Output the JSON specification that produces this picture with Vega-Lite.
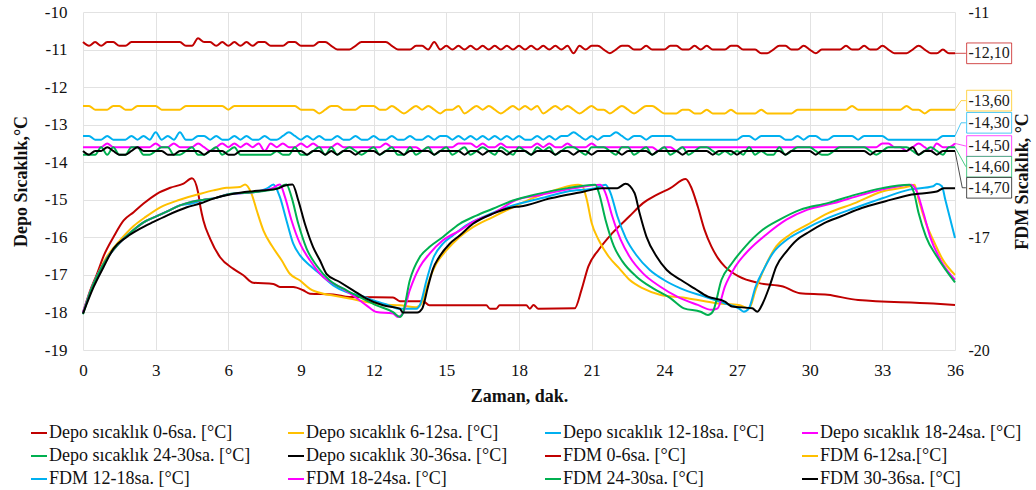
{
  "$schema": "https://vega.github.io/schema/vega-lite/v6.json",
  "width": 872,
  "height": 338,
  "autosize": {"type": "none"},
  "padding": {"left": 83, "top": 12, "right": 81, "bottom": 140},
  "background": "white",
  "config": {
    "font": "Liberation Serif",
    "locale": {"number": {"decimal": ",", "thousands": ".", "grouping": [3], "currency": ["", ""], "minus": "-"}},
    "view": {"stroke": null},
    "axis": {
      "labelFont": "Liberation Serif",
      "titleFont": "Liberation Serif",
      "labelColor": "#111111",
      "titleColor": "#111111",
      "gridColor": "#E2E2E2",
      "gridWidth": 1,
      "domain": false,
      "ticks": false,
      "labelFontSize": 17,
      "titleFontSize": 18,
      "titleFontWeight": "bold",
      "labelFlush": false,
      "labelOverlap": false
    }
  },
  "layer": [
    {
      "data": {
        "values": [
          {"s": "Depo sıcaklık 0-6sa. [°C]",
           "t": [0,0.3,0.58,0.85,1.26,1.68,2.09,2.5,3.05,3.6,4.15,4.5,4.75,4.85,4.97,5.25,5.66,6.21,6.62,7.03,7.86,8.13,8.68,9.09,9.37,10.33,11,12.8,13.08,14.04,14.3,16.65,16.8,17.06,17.2,18.3,18.45,18.6,18.8,20.3,20.58,20.86,21.29,21.85,22.56,23.12,23.68,24.25,24.88,25.09,25.38,25.66,25.94,26.22,26.5,27.07,27.92,28.9,29.6,30.74,32,35.1,36],
           "v": [-18,-17.41,-16.97,-16.5,-15.99,-15.55,-15.33,-15.1,-14.84,-14.68,-14.57,-14.43,-14.8,-15.2,-15.55,-16.04,-16.53,-16.84,-17.01,-17.21,-17.24,-17.32,-17.32,-17.41,-17.5,-17.52,-17.59,-17.6,-17.7,-17.7,-17.81,-17.81,-17.9,-17.9,-17.81,-17.81,-17.9,-17.8,-17.9,-17.89,-17.4,-16.78,-16.33,-15.89,-15.44,-15.09,-14.87,-14.69,-14.45,-14.64,-15.18,-15.8,-16.24,-16.56,-16.78,-17.04,-17.22,-17.31,-17.49,-17.53,-17.67,-17.76,-17.8]},
          {"s": "Depo sıcaklık 6-12sa. [°C]",
           "t": [0,0.3,0.6,1,1.5,2.09,2.6,3.19,4,4.84,5.38,5.93,6.48,6.69,6.96,7.17,7.45,7.79,8.2,8.54,8.96,9.37,9.92,10.33,11,11.7,12.39,13.08,13.76,13.97,14.24,14.59,15,15.55,16.1,16.92,17.75,18.6,19.6,20.44,20.6,20.8,21,21.29,21.7,22.13,22.56,23.12,23.82,24.95,26.22,27.07,27.5,27.77,28.13,28.62,29.18,29.89,30.74,31.86,33,34.12,34.33,34.5,34.8,35.1,35.5,36],
           "v": [-18,-17.45,-17,-16.5,-16.1,-15.7,-15.45,-15.2,-15,-14.84,-14.75,-14.68,-14.66,-14.59,-14.84,-15.28,-15.82,-16.22,-16.61,-16.97,-17.15,-17.37,-17.5,-17.55,-17.63,-17.72,-17.79,-17.81,-17.86,-17.77,-17.23,-16.7,-16.35,-15.99,-15.73,-15.46,-15.2,-14.95,-14.72,-14.6,-14.62,-15,-15.62,-16.07,-16.51,-16.82,-17.13,-17.36,-17.53,-17.62,-17.76,-17.8,-17.89,-17.4,-16.82,-16.24,-15.93,-15.67,-15.36,-15.09,-14.78,-14.64,-14.6,-15,-15.62,-16.07,-16.6,-17]},
          {"s": "Depo sıcaklık 12-18sa. [°C]",
           "t": [0,0.3,0.6,1,1.5,2,2.5,3,3.5,4,4.5,5,5.5,6,7,7.6,7.86,8.13,8.4,8.68,8.96,9.37,9.78,10.33,10.88,11.43,12,12.53,13.08,13.76,13.93,14.18,14.45,14.86,15.27,15.82,16.65,17.75,18.9,20,21.15,21.57,21.78,22.06,22.41,22.84,23.4,23.97,24.67,25.66,26.5,27.07,27.28,27.49,27.77,28.13,28.48,29.04,29.75,30.74,31.86,33,34.12,35.1,35.25,35.46,35.6,35.81,36],
           "v": [-18,-17.45,-17,-16.55,-16.15,-15.85,-15.6,-15.45,-15.3,-15.15,-15.1,-15,-14.95,-14.85,-14.8,-14.7,-14.59,-14.93,-15.55,-16.17,-16.48,-16.75,-16.97,-17.28,-17.46,-17.55,-17.68,-17.79,-17.9,-17.9,-17.77,-17.15,-16.57,-16.17,-15.95,-15.68,-15.42,-15.15,-14.96,-14.78,-14.69,-14.6,-14.82,-15.44,-16.02,-16.47,-16.87,-17.13,-17.36,-17.58,-17.76,-17.89,-17.98,-17.89,-17.31,-16.82,-16.42,-16.07,-15.8,-15.49,-15.22,-14.96,-14.73,-14.64,-14.57,-14.64,-15,-15.53,-16.02]},
          {"s": "Depo sıcaklık 18-24sa. [°C]",
           "t": [0,0.3,0.6,1,1.5,2,2.5,3,3.5,4,4.5,5,5.5,6,7,7.8,8.13,8.34,8.61,8.96,9.37,9.92,10.6,11.15,11.7,12.12,12.8,13,13.2,13.49,13.9,14.3,14.86,15.55,16.1,16.92,17.9,18.9,20.3,21.36,21.57,21.85,22.2,22.56,23.12,23.82,24.53,25.38,25.94,26.2,26.5,26.93,27.5,28.2,29.04,29.89,31,32.15,33.27,34.2,34.4,34.7,34.97,35.4,36],
           "v": [-18,-17.45,-17,-16.55,-16.15,-15.85,-15.6,-15.45,-15.3,-15.15,-15.05,-15,-14.95,-14.85,-14.8,-14.7,-14.59,-14.93,-15.55,-16.17,-16.61,-17.06,-17.32,-17.55,-17.81,-17.99,-18.03,-18.12,-18.03,-17.41,-16.79,-16.44,-16.08,-15.82,-15.59,-15.37,-15,-14.87,-14.69,-14.6,-14.82,-15.44,-16.07,-16.51,-16.96,-17.31,-17.58,-17.8,-17.93,-17.89,-17.31,-16.78,-16.33,-15.93,-15.53,-15.27,-15.09,-14.87,-14.69,-14.6,-14.75,-15.36,-15.98,-16.6,-17.13]},
          {"s": "Depo sıcaklık 24-30sa. [°C]",
           "t": [0,0.3,0.6,1,1.5,2,2.5,3,3.5,4,4.5,5,5.5,6,7,8,8.4,8.61,8.89,9.23,9.64,10.19,10.88,11.43,12.12,12.8,13.08,13.2,13.49,13.9,14.3,14.86,15.55,16.24,16.92,17.75,18.6,20,21.15,21.3,21.57,21.92,22.27,22.84,23.54,24.25,24.81,25.5,25.8,26,26.36,26.79,27.35,28.06,28.76,29.6,30.74,31.86,33,34.12,34.3,34.5,34.8,35.25,36],
           "v": [-18.05,-17.45,-17,-16.55,-16.15,-15.85,-15.6,-15.45,-15.3,-15.15,-15.05,-15,-14.95,-14.85,-14.8,-14.7,-14.59,-14.93,-15.64,-16.3,-16.75,-17.15,-17.41,-17.59,-17.81,-17.99,-18.12,-18.03,-17.15,-16.53,-16.26,-15.99,-15.64,-15.42,-15.24,-15.02,-14.87,-14.69,-14.6,-14.82,-15.53,-16.24,-16.64,-17.04,-17.36,-17.62,-17.89,-17.98,-18.07,-17.98,-17.13,-16.69,-16.24,-15.8,-15.53,-15.27,-15.09,-14.87,-14.69,-14.6,-14.8,-15.36,-15.98,-16.51,-17.2]},
          {"s": "Depo sıcaklık 30-36sa. [°C]",
           "t": [0,0.44,0.85,1.26,1.81,2.36,2.91,3.46,4.29,4.84,5.38,6.21,7.03,8,8.34,8.65,8.89,9.16,9.5,9.78,10.05,10.6,11.15,11.7,12.39,13.08,13.2,13.8,14,14.24,14.45,14.7,15.14,15.55,16.1,16.92,17.75,18.04,19.3,20.7,21.4,22.06,22.4,22.77,22.98,23.26,23.68,24.1,24.67,25.24,25.8,26.5,26.79,27.63,27.84,28.06,28.34,28.62,29.04,29.47,29.89,30.6,31.3,32.15,33.13,34.12,35.25,35.53,36],
           "v": [-18.03,-17.32,-16.79,-16.3,-15.99,-15.77,-15.59,-15.42,-15.2,-15.1,-14.97,-14.84,-14.77,-14.71,-14.62,-14.59,-15.02,-15.64,-16.26,-16.61,-16.97,-17.19,-17.41,-17.63,-17.81,-17.9,-18,-18,-17.9,-17.32,-16.84,-16.53,-16.17,-15.95,-15.64,-15.37,-15.2,-15.18,-14.96,-14.78,-14.69,-14.69,-14.57,-14.82,-15.36,-15.98,-16.51,-16.87,-17.13,-17.36,-17.58,-17.71,-17.84,-17.89,-17.98,-17.76,-17.31,-16.78,-16.38,-16.07,-15.89,-15.62,-15.44,-15.22,-15.04,-14.87,-14.78,-14.69,-14.69]}
        ]
      },
      "transform": [{"flatten": ["t", "v"]}],
      "mark": {"type": "line", "strokeWidth": 2, "interpolate": "monotone"},
      "encoding": {
        "x": {
          "field": "t", "type": "quantitative",
          "scale": {"domain": [0, 36], "nice": false, "zero": false},
          "axis": {"values": [0,3,6,9,12,15,18,21,24,27,30,33,36], "title": "Zaman, dak.", "labelPadding": 12, "titlePadding": 9, "grid": true}
        },
        "y": {
          "field": "v", "type": "quantitative",
          "scale": {"domain": [-19, -10], "nice": false, "zero": false},
          "axis": {"values": [-19,-18,-17,-16,-15,-14,-13,-12,-11,-10], "title": "Depo Sıcaklık,°C", "labelPadding": 16, "titlePadding": 14, "grid": true}
        },
        "color": {
          "field": "s", "type": "nominal",
          "scale": {
            "domain": ["Depo sıcaklık 0-6sa. [°C]","Depo sıcaklık 6-12sa. [°C]","Depo sıcaklık 12-18sa. [°C]","Depo sıcaklık 18-24sa. [°C]","Depo sıcaklık 24-30sa. [°C]","Depo sıcaklık 30-36sa. [°C]","FDM 0-6sa. [°C]","FDM 6-12sa.[°C]","FDM 12-18sa. [°C]","FDM 18-24sa. [°C]","FDM 24-30sa. [°C]","FDM 30-36sa. [°C]"],
            "range": ["#C00000","#FFC000","#00B0F0","#FF00FF","#00B050","#000000","#C00000","#FFC000","#00B0F0","#FF00FF","#00B050","#000000"]
          },
          "legend": {
            "orient": "none", "legendX": -53, "legendY": 412,
            "direction": "horizontal",
            "columns": 4, "title": null, "padding": 0,
            "symbolType": "stroke", "symbolStrokeWidth": 2, "symbolSize": 256,
            "labelFont": "Liberation Serif", "labelFontSize": 18, "labelColor": "#111111",
            "labelLimit": 400, "labelOffset": 1, "gridAlign": "all",
            "columnPadding": 33, "rowPadding": 5
          }
        }
      }
    },
    {
      "layer": [
        {
          "data": {
            "values": [
              {
                "t": [0,0.25,0.5,0.75,1,1.25,1.5,1.75,2,2.25,2.5,2.75,3,3.25,3.5,3.75,4,4.25,4.5,4.75,5,5.25,5.5,5.75,6,6.25,6.5,6.75,7,7.25,7.5,7.75,8,8.25,8.5,8.75,9,9.25,9.5,9.75,10,10.25,10.5,10.75,11,11.25,11.5,11.75,12,12.25,12.5,12.75,13,13.25,13.5,13.75,14,14.25,14.5,14.75,15,15.25,15.5,15.75,16,16.25,16.5,16.75,17,17.25,17.5,17.75,18,18.25,18.5,18.75,19,19.25,19.5,19.75,20,20.25,20.5,20.75,21,21.25,21.5,21.75,22,22.25,22.5,22.75,23,23.25,23.5,23.75,24,24.25,24.5,24.75,25,25.25,25.5,25.75,26,26.25,26.5,26.75,27,27.25,27.5,27.75,28,28.25,28.5,28.75,29,29.25,29.5,29.75,30,30.25,30.5,30.75,31,31.25,31.5,31.75,32,32.25,32.5,32.75,33,33.25,33.5,33.75,34,34.25,34.5,34.75,35,35.25,35.5,35.75,36],
                "r": [-11.8,-11.9,-11.8,-11.9, -11.8,-11.8,-11.9,-11.9, -11.8,-11.8,-11.8,-11.8, -11.8,-11.8,-11.8,-11.8, -11.8,-11.9,-11.9,-11.7, -11.8,-11.8,-11.9,-11.8, -11.9,-11.8,-11.9,-11.8, -11.9,-11.8,-11.8,-11.9, -11.9,-11.9,-11.8,-11.8, -11.9,-11.9,-11.9,-11.8, -11.8,-11.9,-12,-12, -12,-11.9,-11.8,-11.8, -11.8,-11.8,-11.8,-11.9, -12,-12,-12,-11.9, -11.9,-12,-11.8,-12, -11.9,-12,-11.9,-12, -11.9,-12,-11.9,-12, -11.9,-12,-11.9,-12, -11.9,-12,-11.9,-12, -11.9,-12,-11.9,-12, -11.9,-12.1,-11.9,-12, -11.9,-11.9,-12,-12.1, -12,-11.9,-11.9,-12, -12,-11.9,-12,-12, -12,-11.9,-11.9,-12, -12,-11.9,-12,-11.9, -12,-12,-12,-11.9, -11.9,-12,-12,-12, -12.1,-12.1,-12,-11.9, -11.9,-12,-12,-11.9, -12,-12.1,-12,-12, -12,-12,-11.9,-12, -12,-11.9,-12,-12, -11.9,-12,-12.1,-12.1, -12.1,-12,-11.9,-12, -12.1,-12.1,-12,-12.1, -12.1],
                "y": [-13.5,-13.5,-13.6,-13.6, -13.6,-13.5,-13.5,-13.6, -13.6,-13.5,-13.5,-13.5, -13.5,-13.6,-13.6,-13.6, -13.6,-13.5,-13.5,-13.5, -13.5,-13.5,-13.5,-13.5, -13.6,-13.5,-13.5,-13.5, -13.5,-13.5,-13.5,-13.5, -13.5,-13.5,-13.5,-13.5, -13.6,-13.6,-13.6,-13.7, -13.6,-13.5,-13.5,-13.6, -13.6,-13.6,-13.5,-13.5, -13.5,-13.6,-13.6,-13.5, -13.6,-13.7,-13.6,-13.5, -13.6,-13.5,-13.6,-13.7, -13.6,-13.6,-13.5,-13.7, -13.6,-13.5,-13.6,-13.5, -13.6,-13.7,-13.6,-13.5, -13.6,-13.5,-13.6,-13.5, -13.7,-13.6,-13.5,-13.6, -13.5,-13.6,-13.7,-13.6, -13.5,-13.6,-13.6,-13.7, -13.6,-13.5,-13.6,-13.7, -13.6,-13.5,-13.5,-13.6, -13.7,-13.7,-13.7,-13.6, -13.6,-13.7,-13.7,-13.6, -13.7,-13.7,-13.7,-13.6, -13.7,-13.7,-13.7,-13.7, -13.6,-13.7,-13.7,-13.7, -13.7,-13.7,-13.6,-13.6, -13.6,-13.6,-13.6,-13.6, -13.6,-13.6,-13.6,-13.5, -13.6,-13.6,-13.6,-13.6, -13.6,-13.6,-13.6,-13.6, -13.5,-13.6,-13.6,-13.7, -13.6,-13.6,-13.6,-13.6, -13.6],
                "b": [-14.3,-14.3,-14.4,-14.4, -14.3,-14.4,-14.4,-14.4, -14.3,-14.4,-14.3,-14.4, -14.2,-14.4,-14.3,-14.4, -14.2,-14.4,-14.4,-14.3, -14.3,-14.4,-14.3,-14.4, -14.4,-14.3,-14.4,-14.3, -14.4,-14.4,-14.3,-14.4, -14.4,-14.3,-14.2,-14.3, -14.4,-14.3,-14.4,-14.3, -14.4,-14.4,-14.3,-14.4, -14.4,-14.3,-14.4,-14.4, -14.3,-14.4,-14.4,-14.3, -14.4,-14.4,-14.3,-14.4, -14.4,-14.3,-14.4,-14.3, -14.3,-14.4,-14.3,-14.4, -14.3,-14.4,-14.3,-14.4, -14.3,-14.4,-14.3,-14.4, -14.3,-14.4,-14.4,-14.3, -14.4,-14.3,-14.4,-14.3, -14.3,-14.2,-14.3,-14.4, -14.3,-14.4,-14.3,-14.3, -14.2,-14.3,-14.4,-14.3, -14.3,-14.4,-14.3,-14.3, -14.3,-14.3,-14.4,-14.4, -14.4,-14.4,-14.4,-14.4, -14.4,-14.4,-14.4,-14.4, -14.4,-14.3,-14.3,-14.4, -14.3,-14.3,-14.3,-14.3, -14.4,-14.4,-14.3,-14.4, -14.3,-14.3,-14.4,-14.4, -14.3,-14.3,-14.3,-14.3, -14.4,-14.3,-14.3,-14.3, -14.3,-14.4,-14.4,-14.4, -14.4,-14.4,-14.4,-14.4, -14.4,-14.4,-14.3,-14.3, -14.3],
                "m": [-14.6,-14.6,-14.6,-14.6, -14.5,-14.6,-14.6,-14.6, -14.6,-14.6,-14.6,-14.6, -14.5,-14.6,-14.6,-14.5, -14.6,-14.6,-14.6,-14.5, -14.6,-14.7,-14.6,-14.5, -14.6,-14.5,-14.6,-14.5, -14.6,-14.5,-14.7,-14.5, -14.6,-14.5,-14.6,-14.6, -14.5,-14.6,-14.5,-14.6, -14.6,-14.6,-14.5,-14.6, -14.6,-14.6,-14.6,-14.6, -14.6,-14.6,-14.5,-14.6, -14.6,-14.6,-14.6,-14.6, -14.7,-14.6,-14.6,-14.6, -14.6,-14.6,-14.5,-14.5, -14.5,-14.6,-14.5,-14.6, -14.6,-14.5,-14.6,-14.6, -14.6,-14.6,-14.6,-14.5, -14.6,-14.5,-14.6,-14.6, -14.5,-14.6,-14.6,-14.6, -14.5,-14.6,-14.6,-14.6, -14.6,-14.6,-14.6,-14.6, -14.6,-14.6,-14.6,-14.7, -14.6,-14.6,-14.7,-14.6, -14.6,-14.6,-14.6,-14.6, -14.6,-14.6,-14.6,-14.6, -14.6,-14.6,-14.6,-14.6, -14.6,-14.6,-14.6,-14.6, -14.6,-14.6,-14.6,-14.6, -14.6,-14.6,-14.6,-14.6, -14.6,-14.6,-14.6,-14.6, -14.6,-14.6,-14.6,-14.6, -14.5,-14.5,-14.6,-14.6, -14.7,-14.6,-14.5,-14.6, -14.7,-14.5,-14.6,-14.6, -14.5],
                "g": [-14.8,-14.8,-14.8,-14.6, -14.8,-14.6,-14.8,-14.8, -14.6,-14.6,-14.8,-14.8, -14.7,-14.6,-14.6,-14.8, -14.8,-14.7,-14.6,-14.8, -14.8,-14.7,-14.6,-14.8, -14.7,-14.6,-14.8,-14.8, -14.8,-14.8,-14.8,-14.8, -14.7,-14.8,-14.8,-14.6, -14.8,-14.8,-14.7,-14.6, -14.8,-14.6,-14.8,-14.7, -14.6,-14.7,-14.8,-14.7, -14.6,-14.8,-14.7,-14.6, -14.8,-14.8,-14.6,-14.8, -14.7,-14.6,-14.8,-14.7, -14.6,-14.8,-14.7,-14.6, -14.8,-14.7,-14.6,-14.7, -14.8,-14.6,-14.7,-14.8, -14.6,-14.7,-14.8,-14.6, -14.7,-14.6,-14.8,-14.7, -14.6,-14.6,-14.7,-14.8, -14.6,-14.6,-14.6,-14.7, -14.8,-14.6,-14.6,-14.8, -14.7,-14.6,-14.8,-14.7, -14.6,-14.8,-14.7,-14.6, -14.8,-14.7,-14.6,-14.6, -14.7,-14.8,-14.7,-14.8, -14.7,-14.8,-14.6,-14.8, -14.7,-14.8,-14.8,-14.6, -14.8,-14.7,-14.6,-14.6, -14.6,-14.7,-14.8,-14.8, -14.7,-14.6,-14.6,-14.6, -14.6,-14.6,-14.7,-14.8, -14.7,-14.6,-14.6,-14.6, -14.6,-14.7,-14.8,-14.7, -14.6,-14.7,-14.8,-14.6, -14.6],
                "k": [-14.7,-14.8,-14.7,-14.7, -14.6,-14.7,-14.8,-14.8, -14.7,-14.6,-14.7,-14.7, -14.7,-14.7,-14.8,-14.8, -14.7,-14.7,-14.7,-14.7, -14.8,-14.7,-14.7,-14.7, -14.8,-14.8,-14.7,-14.7, -14.7,-14.7,-14.7,-14.7, -14.7,-14.7,-14.7,-14.7, -14.7,-14.8,-14.7,-14.7, -14.8,-14.7,-14.8,-14.7, -14.7,-14.8,-14.7,-14.7, -14.7,-14.8,-14.7,-14.7, -14.7,-14.8,-14.7,-14.7, -14.7,-14.7,-14.8,-14.7, -14.7,-14.7,-14.7,-14.8, -14.7,-14.7,-14.8,-14.7, -14.7,-14.7,-14.8,-14.7, -14.7,-14.7,-14.8,-14.7, -14.7,-14.7,-14.8,-14.7, -14.7,-14.8,-14.7,-14.7, -14.8,-14.7,-14.7,-14.7, -14.7,-14.8,-14.7,-14.7, -14.7,-14.7,-14.8,-14.7, -14.7,-14.7,-14.7,-14.8, -14.7,-14.7,-14.7,-14.7, -14.8,-14.7,-14.7,-14.7, -14.8,-14.7,-14.7,-14.7, -14.7,-14.7,-14.7,-14.7, -14.8,-14.7,-14.7,-14.7, -14.7,-14.8,-14.7,-14.7, -14.7,-14.7,-14.7,-14.7, -14.7,-14.7,-14.8,-14.7, -14.7,-14.7,-14.7,-14.7, -14.7,-14.6,-14.8,-14.7, -14.7,-14.8,-14.7,-14.7, -14.7]
              }
            ]
          },
          "transform": [
            {"flatten": ["t", "r", "y", "b", "m", "g", "k"]},
            {"fold": ["r", "y", "b", "m", "g", "k"], "as": ["key", "v"]},
            {"lookup": "key", "from": {"data": {"values": [
              {"key": "r", "s": "FDM 0-6sa. [°C]"},
              {"key": "y", "s": "FDM 6-12sa.[°C]"},
              {"key": "b", "s": "FDM 12-18sa. [°C]"},
              {"key": "m", "s": "FDM 18-24sa. [°C]"},
              {"key": "g", "s": "FDM 24-30sa. [°C]"},
              {"key": "k", "s": "FDM 30-36sa. [°C]"}
            ]}, "key": "key", "fields": ["s"]}}
          ],
          "mark": {"type": "line", "strokeWidth": 2, "interpolate": "monotone"},
          "encoding": {
            "x": {"field": "t", "type": "quantitative", "scale": {"domain": [0, 36], "nice": false, "zero": false},
                  "axis": {"values": [0,3,6,9,12,15,18,21,24,27,30,33,36], "title": "Zaman, dak.", "labelPadding": 12, "titlePadding": 9, "grid": true}},
            "y": {
              "field": "v", "type": "quantitative",
              "scale": {"domain": [-20, -11], "nice": false, "zero": false},
              "axis": {"orient": "right", "values": [-20, -17, -11], "grid": false, "title": "FDM Sıcaklık, °C", "titleAngle": 270, "labelPadding": 13, "labelFontSize": 16, "titlePadding": 42}
            },
            "color": {"field": "s", "type": "nominal", "legend": null}
          }
        },
        {
          "data": {"name": "callouts", "values": [
            {"s": "FDM 0-6sa. [°C]", "lab": "-12,10", "lt": [36, 36.45], "lv": [-12.1, -12.1], "bx": 37.41, "by": -12.1},
            {"s": "FDM 6-12sa.[°C]", "lab": "-13,60", "lt": [36, 36.25, 36.45], "lv": [-13.6, -13.36, -13.36], "bx": 37.41, "by": -13.36},
            {"s": "FDM 12-18sa. [°C]", "lab": "-14,30", "lt": [36, 36.25, 36.45], "lv": [-14.3, -13.95, -13.95], "bx": 37.41, "by": -13.95},
            {"s": "FDM 18-24sa. [°C]", "lab": "-14,50", "lt": [36, 36.45], "lv": [-14.5, -14.57], "bx": 37.41, "by": -14.57},
            {"s": "FDM 24-30sa. [°C]", "lab": "-14,60", "lt": [36, 36.45], "lv": [-14.6, -15.12], "bx": 37.41, "by": -15.12},
            {"s": "FDM 30-36sa. [°C]", "lab": "-14,70", "lt": [36, 36.3, 36.45], "lv": [-14.7, -15.68, -15.68], "bx": 37.41, "by": -15.68}
          ]},
          "transform": [{"flatten": ["lt", "lv"]}],
          "mark": {"type": "line", "strokeWidth": 1, "opacity": 0.7},
          "encoding": {
            "x": {"field": "lt", "type": "quantitative", "scale": {"domain": [0, 36], "nice": false, "zero": false},
                  "axis": {"values": [0,3,6,9,12,15,18,21,24,27,30,33,36], "title": "Zaman, dak.", "labelPadding": 12, "titlePadding": 9, "grid": true}},
            "y": {"field": "lv", "type": "quantitative", "scale": {"domain": [-20, -11], "nice": false, "zero": false},
                  "axis": {"orient": "right", "values": [-20, -17, -11], "grid": false, "title": "FDM Sıcaklık, °C", "titleAngle": 270, "labelPadding": 13, "labelFontSize": 16, "titlePadding": 42}},
            "color": {"field": "s", "type": "nominal", "legend": null}
          }
        },
        {
          "data": {"name": "callouts"},
          "mark": {"type": "point", "shape": "M-1,-0.46H1V0.46H-1Z", "size": 2025, "filled": false, "fill": "white", "fillOpacity": 1, "strokeWidth": 1, "strokeOpacity": 0.7, "opacity": 1},
          "encoding": {
            "x": {"field": "bx", "type": "quantitative", "scale": {"domain": [0, 36], "nice": false, "zero": false},
                  "axis": {"values": [0,3,6,9,12,15,18,21,24,27,30,33,36], "title": "Zaman, dak.", "labelPadding": 12, "titlePadding": 9, "grid": true}},
            "y": {"field": "by", "type": "quantitative", "scale": {"domain": [-20, -11], "nice": false, "zero": false},
                  "axis": {"orient": "right", "values": [-20, -17, -11], "grid": false, "title": "FDM Sıcaklık, °C", "titleAngle": 270, "labelPadding": 13, "labelFontSize": 16, "titlePadding": 42}},
            "color": {"field": "s", "type": "nominal", "legend": null}
          }
        },
        {
          "data": {"name": "callouts"},
          "mark": {"type": "text", "font": "Liberation Serif", "fontSize": 16, "align": "center", "baseline": "middle", "color": "#1a1a1a"},
          "encoding": {
            "x": {"field": "bx", "type": "quantitative", "scale": {"domain": [0, 36], "nice": false, "zero": false},
                  "axis": {"values": [0,3,6,9,12,15,18,21,24,27,30,33,36], "title": "Zaman, dak.", "labelPadding": 12, "titlePadding": 9, "grid": true}},
            "y": {"field": "by", "type": "quantitative", "scale": {"domain": [-20, -11], "nice": false, "zero": false},
                  "axis": {"orient": "right", "values": [-20, -17, -11], "grid": false, "title": "FDM Sıcaklık, °C", "titleAngle": 270, "labelPadding": 13, "labelFontSize": 16, "titlePadding": 42}},
            "text": {"field": "lab"}
          }
        }
      ]
    }
  ],
  "resolve": {"scale": {"y": "independent"}}
}
